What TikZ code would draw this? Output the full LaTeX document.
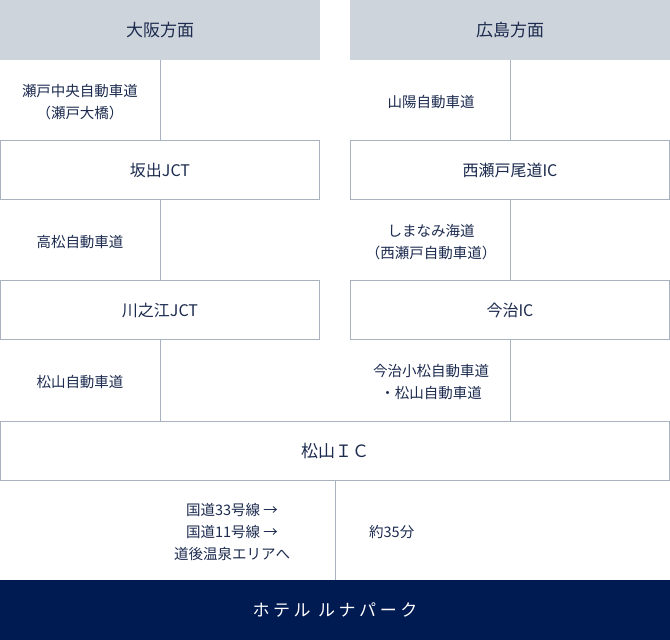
\documentclass[tikz,border=0pt]{standalone}
\usepackage{fontspec}
\setmainfont{Noto Sans CJK JP}
\definecolor{navy}{HTML}{1B2A4E}
\definecolor{deepnavy}{HTML}{001A52}
\definecolor{headgray}{HTML}{CDD4DB}
\definecolor{linegray}{HTML}{A8B3BF}
\begin{document}
\begin{tikzpicture}[x=1pt, y=-1pt,
    head/.style={rectangle, fill=headgray, minimum width=320pt, minimum height=60pt, inner sep=0pt, text=navy, font=\fontsize{17}{20}\selectfont},
    box/.style={rectangle, draw=linegray, line width=1pt, minimum width=319pt, minimum height=59pt, inner sep=0pt, text=navy, font=\fontsize{16}{20}\selectfont},
    route/.style={align=center, inner sep=0pt, text=navy, font=\fontsize{14.5}{22}\selectfont},
    link/.style={draw=linegray, line width=1pt}
]
    \useasboundingbox (0,0) rectangle (670,640);

    \node[head] (osaka) at (160,30) {大阪方面};
    \node[head] (hiroshima) at (510,30) {広島方面};

    \node[box] (sakaide) at (160,170) {坂出JCT};
    \node[box] (onomichi) at (510,170) {西瀬戸尾道IC};
    \node[box] (kawanoe) at (160,310) {川之江JCT};
    \node[box] (imabari) at (510,310) {今治IC};
    \node[box, minimum width=669pt, font=\fontsize{17}{20}\selectfont] (matsuyama) at (335,451) {松山ＩＣ};
    \node[rectangle, fill=deepnavy, minimum width=670pt, minimum height=60pt, inner sep=0pt, text=white,
        font=\fontsize{17}{20}\selectfont\addfontfeature{LetterSpace=21}] (hotel) at (335,610) {ホテル ルナパーク};

    \node[route] (setochuo) at (80,102) {瀬戸中央自動車道\\（瀬戸大橋）};
    \node[route] (sanyo) at (431,102) {山陽自動車道};
    \node[route] (takamatsu) at (80,242) {高松自動車道};
    \node[route] (shimanami) at (431,242) {しまなみ海道\\（西瀬戸自動車道）};
    \node[route] (matsuyamaexp) at (80,382) {松山自動車道};
    \node[route] (imabarikomatsu) at (431,382) {今治小松自動車道\\・松山自動車道};
    \node[route] (kokudo) at (232,532) {国道33号線 →\\国道11号線 →\\道後温泉エリアへ};
    \node[route, anchor=west] (time) at (369,532) {約35分};

    \draw[link] (osaka.south) -- (sakaide.north);
    \draw[link] (hiroshima.south) -- (onomichi.north);
    \draw[link] (sakaide.south) -- (kawanoe.north);
    \draw[link] (onomichi.south) -- (imabari.north);
    \draw[link] (kawanoe.south) -- (kawanoe.south |- matsuyama.north);
    \draw[link] (imabari.south) -- (imabari.south |- matsuyama.north);
    \draw[link] (matsuyama.south) -- (hotel.north);
\end{tikzpicture}
\end{document}
